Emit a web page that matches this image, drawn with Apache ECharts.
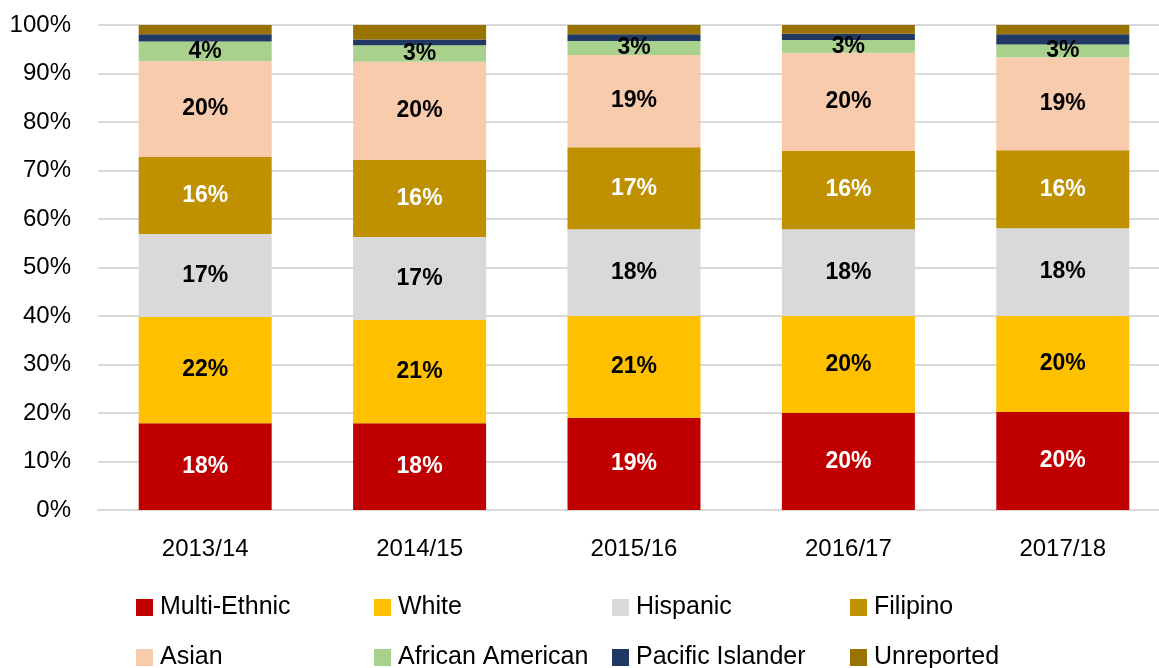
<!DOCTYPE html>
<html>
<head>
<meta charset="utf-8">
<script src="https://cdn.jsdelivr.net/npm/echarts@6/dist/echarts.min.js"></script>
<style>
html,body{margin:0;padding:0;background:#fff;overflow:hidden;}
#main{width:1180px;height:668px;}
</style>
</head>
<body>
<div id="main"></div>
<script>
var years = ['2013/14', '2014/15', '2015/16', '2016/17', '2017/18'];
var yTicks = ['0%', '10%', '20%', '30%', '40%', '50%', '60%', '70%', '80%', '90%', '100%'];

var multiEthnic = [17.9, 17.9, 19.0, 20.0, 20.2];
var white = [21.9, 21.3, 21.0, 20.0, 19.8];
var hispanic = [17.1, 17.1, 17.9, 17.9, 18.1];
var filipino = [15.9, 15.9, 16.9, 16.1, 16.1];
var asian = [19.8, 20.2, 19.0, 20.3, 19.1];
var africanAmerican = [4.0, 3.4, 2.9, 2.6, 2.7];
var pacificIslander = [1.5, 1.2, 1.4, 1.3, 2.1];
var unreported = [1.9, 3.0, 1.9, 1.8, 1.9];

var groups = [
	{name: 'Multi-Ethnic', data: multiEthnic, color: '#C00000', label: '#ffffff'},
	{name: 'White', data: white, color: '#FFC000', label: '#000000'},
	{name: 'Hispanic', data: hispanic, color: '#D9D9D9', label: '#000000'},
	{name: 'Filipino', data: filipino, color: '#BF9000', label: '#ffffff'},
	{name: 'Asian', data: asian, color: '#F8CBAD', label: '#000000'},
	{name: 'African American', data: africanAmerican, color: '#A9D18E', label: '#000000'},
	{name: 'Pacific Islander', data: pacificIslander, color: '#203864', label: null},
	{name: 'Unreported', data: unreported, color: '#997300', label: null}
];

window.onload = function () {
	var myChart = echarts.init(document.getElementById('main'));
	var font = '"Liberation Sans", Arial, sans-serif';

	var series = groups.map(function (g) {
		return {
			name: g.name,
			type: 'bar',
			stack: 'total',
			barWidth: 133,
			itemStyle: {color: g.color},
			label: {
				show: g.label !== null,
				position: 'inside',
				color: g.label || '#000',
				fontFamily: font,
				fontWeight: 'bold',
				fontSize: 23,
				formatter: function (p) {
					return Math.round(p.value) + '%';
				}
			},
			emphasis: {disabled: true},
			data: g.data
		};
	});

	// one legend per item so the columns line up like the original
	var legends = groups.map(function (g, i) {
		return {
			data: [g.name],
			left: 131 + (i % 4) * 238,
			top: 590 + Math.floor(i / 4) * 50,
			itemWidth: 17,
			itemHeight: 17,
			itemGap: 0,
			icon: 'rect',
			textStyle: {fontFamily: font, fontSize: 25, color: '#000', padding: [0, 0, 0, 2]},
			selectedMode: false
		};
	});

	myChart.setOption({
		animation: false,
		legend: legends,
		grid: {left: 98, top: 25, width: 1072, height: 485},
		xAxis: {
			type: 'category',
			data: years,
			axisLine: {lineStyle: {color: '#d9d9d9', width: 2}},
			axisTick: {show: false},
			axisLabel: {color: '#000', fontFamily: font, fontSize: 24, margin: 27}
		},
		yAxis: {
			type: 'value',
			min: 0,
			max: 100,
			interval: 10,
			axisLine: {show: false},
			axisTick: {show: false},
			splitLine: {lineStyle: {color: '#d9d9d9', width: 2}},
			axisLabel: {
				color: '#000',
				fontFamily: font,
				fontSize: 24,
				margin: 27,
				formatter: function (v) {
					return yTicks[Math.round(v / 10)];
				}
			}
		},
		series: series
	});
};
</script>
</body>
</html>
